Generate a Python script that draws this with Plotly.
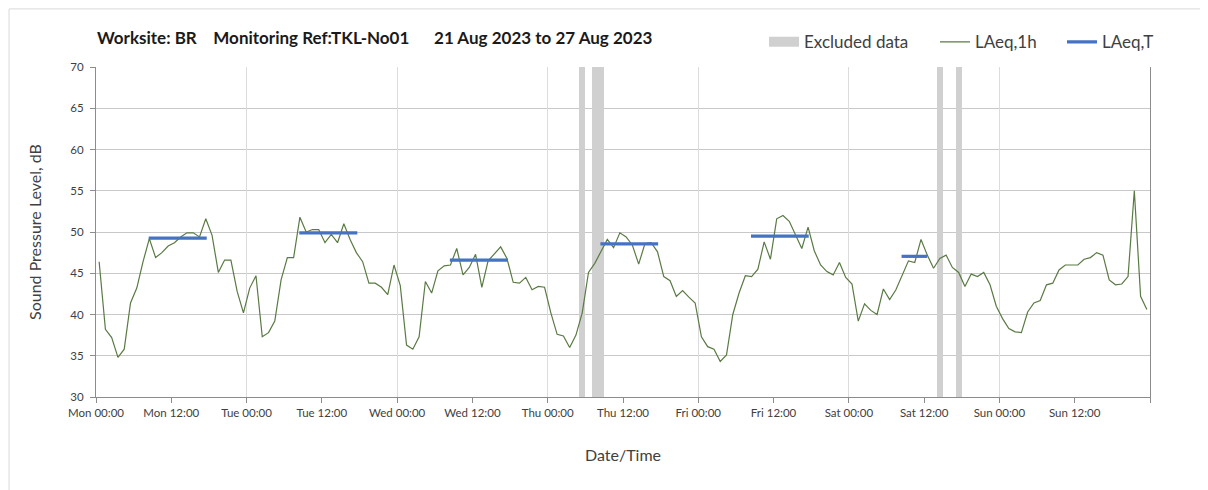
import pandas as pd
import plotly.graph_objects as go

# ---------------- data ----------------
start = pd.Timestamp("2023-08-21 00:00")  # Monday

# hourly LAeq,1h values, Mon 00:00 .. Sun 23:00 (168 values), plotted at hh:30
laeq_1h = [
    # Mon
    46.4, 38.2, 37.2, 34.8, 35.8, 41.4, 43.2, 46.4, 49.2, 46.9, 47.5, 48.3,
    48.7, 49.4, 49.9, 49.9, 49.4, 51.6, 49.6, 45.1, 46.6, 46.6, 42.8, 40.2,
    # Tue
    43.2, 44.7, 37.3, 37.8, 39.2, 44.2, 46.9, 46.9, 51.8, 50.0, 50.3, 50.3,
    48.7, 49.7, 48.7, 51.0, 49.1, 47.5, 46.4, 43.8, 43.8, 43.3, 42.4, 46.0,
    # Wed
    43.5, 36.3, 35.8, 37.3, 44.0, 42.6, 45.3, 45.9, 46.0, 48.0, 44.8, 45.7,
    47.3, 43.3, 46.5, 47.3, 48.2, 46.8, 43.9, 43.8, 44.5, 43.0, 43.4, 43.3,
    # Thu
    40.2, 37.6, 37.4, 36.0, 37.5, 40.2, 45.1, 46.2, 47.6, 49.1, 48.1, 49.9,
    49.4, 48.4, 46.1, 48.6, 48.7, 47.6, 44.6, 44.1, 42.2, 42.9, 42.1, 41.4,
    # Fri
    37.3, 36.1, 35.8, 34.3, 35.1, 40.0, 42.6, 44.7, 44.6, 45.5, 48.8, 46.7,
    51.6, 52.0, 51.3, 49.6, 48.0, 50.6, 47.7, 46.0, 45.2, 44.8, 46.3, 44.5,
    # Sat
    43.7, 39.2, 41.3, 40.5, 40.0, 43.1, 41.8, 43.0, 44.8, 46.5, 46.3, 49.1,
    47.2, 45.6, 46.8, 47.2, 45.7, 45.1, 43.4, 44.9, 44.6, 45.1, 43.6, 41.0,
    # Sun
    39.5, 38.3, 37.9, 37.8, 40.3, 41.4, 41.7, 43.6, 43.8, 45.4, 46.0, 46.0,
    46.0, 46.7, 46.9, 47.5, 47.2, 44.2, 43.6, 43.7, 44.6, 55.0, 42.2, 40.6,
]

# LAeq,T periods: (start hour from Mon 00:00, end hour, level)
laeq_t_start = [8.4, 32.4, 56.4, 80.4, 104.4, 128.4]
laeq_t_end = [17.65, 41.65, 65.65, 89.6, 113.6, 132.5]
laeq_t_level = [49.25, 49.9, 46.6, 48.55, 49.5, 47.05]

# excluded periods (start hour, end hour)
excl_start = [77, 79, 134, 137]
excl_end = [78, 81, 135, 138]

# x tick labels every 12 h (last tick unlabelled)
tick_labels = ["Mon 00:00", "Mon 12:00", "Tue 00:00", "Tue 12:00", "Wed 00:00",
               "Wed 12:00", "Thu 00:00", "Thu 12:00", "Fri 00:00", "Fri 12:00",
               "Sat 00:00", "Sat 12:00", "Sun 00:00", "Sun 12:00", ""]

title_text = ("Worksite: BR\u00a0\u00a0\u00a0\u00a0Monitoring Ref:TKL-No01"
              "\u00a0\u00a0\u00a0\u00a0\u00a0\u00a021 Aug 2023 to 27 Aug 2023")

# ---------------- build ----------------
hours = pd.to_timedelta(range(len(laeq_1h)), unit="h")
t_1h = start + hours + pd.Timedelta(minutes=30)

bx, by = [], []
for s, e, v in zip(laeq_t_start, laeq_t_end, laeq_t_level):
    bx += [start + pd.Timedelta(hours=s), start + pd.Timedelta(hours=e), None]
    by += [v, v, None]

ex_mid = [start + pd.Timedelta(hours=(s + e) / 2) for s, e in zip(excl_start, excl_end)]
ex_w = [(e - s) * 3600 * 1000 for s, e in zip(excl_start, excl_end)]

tick_vals = [start + pd.Timedelta(hours=12 * i) for i in range(len(tick_labels))]

FONT = "Lato"
EXCL_COLOR = "#d0d0d0"
fig = go.Figure()
fig.add_trace(go.Bar(
    x=ex_mid, y=[40] * len(ex_mid), base=30, width=ex_w,
    marker=dict(color=EXCL_COLOR, line=dict(width=0)),
    name="Excluded data", hoverinfo="skip", showlegend=False,
))
# legend entry for the excluded bars (wide grey swatch)
fig.add_trace(go.Scatter(
    x=[None], y=[None], mode="lines", name="Excluded data",
    line=dict(color=EXCL_COLOR, width=12), legend="legend",
))
fig.add_trace(go.Scatter(
    x=t_1h, y=laeq_1h, mode="lines", name="LAeq,1h",
    line=dict(color="#5a7a44", width=1.2), legend="legend2",
))
fig.add_trace(go.Scatter(
    x=bx, y=by, mode="lines", name="LAeq,T",
    line=dict(color="#4472c4", width=3.2), legend="legend3",
))
# invisible trace for the day grid axis
fig.add_trace(go.Scatter(x=[start, start + pd.Timedelta(days=7)], y=[None, None],
                         xaxis="x2", showlegend=False, hoverinfo="skip"))

leg_font = dict(size=17, color="#404040", family=FONT)
def leg(x):
    return dict(orientation="h", x=x, y=1.075, xanchor="left", yanchor="middle",
                font=leg_font, itemwidth=30, bgcolor="rgba(0,0,0,0)")

xr = [start, start + pd.Timedelta(days=7)]
fig.update_layout(
    width=1200, height=482,
    margin=dict(l=88, r=58, t=59, b=93),
    paper_bgcolor="white", plot_bgcolor="white",
    font=dict(family=FONT, color="#404040"),
    bargap=0,
    showlegend=True,
    legend=leg(0.6338),
    legend2=leg(0.796),
    legend3=leg(0.9165),
    xaxis=dict(
        type="date", range=xr, tickmode="array", tickvals=tick_vals, ticktext=tick_labels,
        showgrid=False,
        showline=True, linecolor="#8c8c8c", linewidth=1,
        ticks="outside", ticklen=5, tickcolor="#8c8c8c",
        tickfont=dict(size=11.5, color="#404040", family=FONT),
        title=dict(text="Date/Time", font=dict(size=16, color="#404040", family=FONT), standoff=32),
        zeroline=False,
    ),
    xaxis2=dict(
        type="date", range=xr, dtick=24 * 3600 * 1000, tick0=start,
        overlaying="x", showgrid=True, gridcolor="#dcdcdc", gridwidth=1,
        showticklabels=False, ticks="", showline=False, zeroline=False,
    ),
    yaxis=dict(
        range=[30, 70], dtick=5, showgrid=True, gridcolor="#c8c8c8", gridwidth=1,
        showline=True, linecolor="#8c8c8c", linewidth=1, mirror=True,
        ticks="outside", ticklen=5, tickcolor="#8c8c8c", ticklabelstandoff=4,
        tickfont=dict(size=11.5, color="#404040", family=FONT),
        title=dict(text="Sound Pressure Level, dB", font=dict(size=16, color="#404040", family=FONT), standoff=24),
        zeroline=False,
    ),
    annotations=[dict(
        text="<b>" + title_text + "</b>", xref="paper", yref="paper",
        x=-0.001, y=1.09, xanchor="left", yanchor="middle", showarrow=False,
        font=dict(size=17, color="#1a1a1a", family=FONT),
    )],
    shapes=[dict(type="rect", xref="paper", yref="paper",
                 x0=-0.0825, x1=1.2, y0=-0.4, y1=1.176,
                 line=dict(color="#d9d9d9", width=1), layer="below")],
)

fig.write_html("out.html")
